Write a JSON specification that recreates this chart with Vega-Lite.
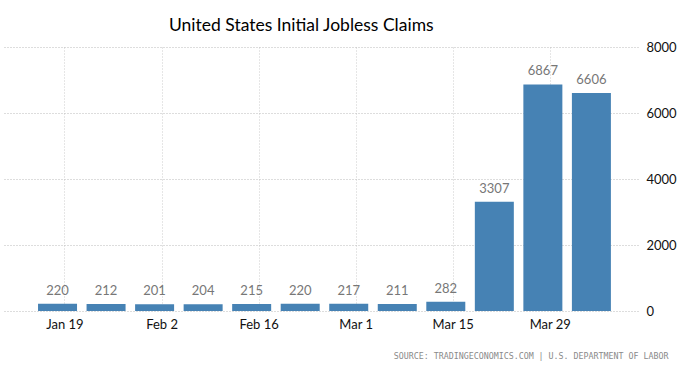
{
  "$schema": "https://vega.github.io/schema/vega-lite/v6.json",
  "width": 634,
  "height": 264,
  "autosize": {"type": "none"},
  "padding": {"left": 4, "top": 47, "right": 49, "bottom": 61},
  "background": "white",
  "title": {
    "text": "United States Initial Jobless Claims",
    "anchor": "start",
    "dx": 165,
    "offset": 7,
    "font": "Lato",
    "fontSize": 17.5,
    "fontWeight": "normal",
    "color": "#000000"
  },
  "data": {
    "values": [
      {"date": "2020-01-18", "claims": 220},
      {"date": "2020-01-25", "claims": 212},
      {"date": "2020-02-01", "claims": 201},
      {"date": "2020-02-08", "claims": 204},
      {"date": "2020-02-15", "claims": 215},
      {"date": "2020-02-22", "claims": 220},
      {"date": "2020-02-29", "claims": 217},
      {"date": "2020-03-07", "claims": 211},
      {"date": "2020-03-14", "claims": 282},
      {"date": "2020-03-21", "claims": 3307},
      {"date": "2020-03-28", "claims": 6867},
      {"date": "2020-04-04", "claims": 6606}
    ]
  },
  "encoding": {
    "x": {
      "field": "date",
      "type": "temporal",
      "scale": {"domain": ["2020-01-11", "2020-04-10"]},
      "axis": {
        "values": ["2020-01-19", "2020-02-02", "2020-02-16", "2020-03-01", "2020-03-15", "2020-03-29"],
        "format": "%b %-d",
        "labelFont": "Lato",
        "labelFontSize": 13,
        "labelColor": "#111111",
        "labelPadding": 7,
        "domain": false,
        "ticks": false,
        "grid": true,
        "gridColor": "#cccccc",
        "gridDash": [1, 2],
        "title": "SOURCE: TRADINGECONOMICS.COM | U.S. DEPARTMENT OF LABOR",
        "titleFont": "DejaVu Sans Mono",
        "titleFontSize": 8.3,
        "titleFontWeight": "normal",
        "titleColor": "#8a8a8a",
        "titleAlign": "right",
        "titleAnchor": null,
        "titleX": 664,
        "titleY": 40
      }
    },
    "y": {
      "field": "claims",
      "type": "quantitative",
      "scale": {"domain": [0, 8000]},
      "axis": {
        "orient": "right",
        "values": [0, 2000, 4000, 6000, 8000],
        "format": "d",
        "labelFont": "Lato",
        "labelFontSize": 13,
        "labelColor": "#111111",
        "labelPadding": 8,
        "domain": false,
        "ticks": false,
        "grid": true,
        "gridColor": "#bbbbbb",
        "gridDash": [1, 2],
        "title": null
      }
    }
  },
  "layer": [
    {
      "mark": {"type": "bar", "size": 39, "color": "#4682b4"}
    },
    {
      "mark": {"type": "text", "dy": -6, "baseline": "bottom", "font": "Lato", "fontSize": 13, "color": "#777777"},
      "encoding": {"text": {"field": "claims", "type": "quantitative", "format": "d"}}
    }
  ],
  "config": {"view": {"stroke": null}}
}
